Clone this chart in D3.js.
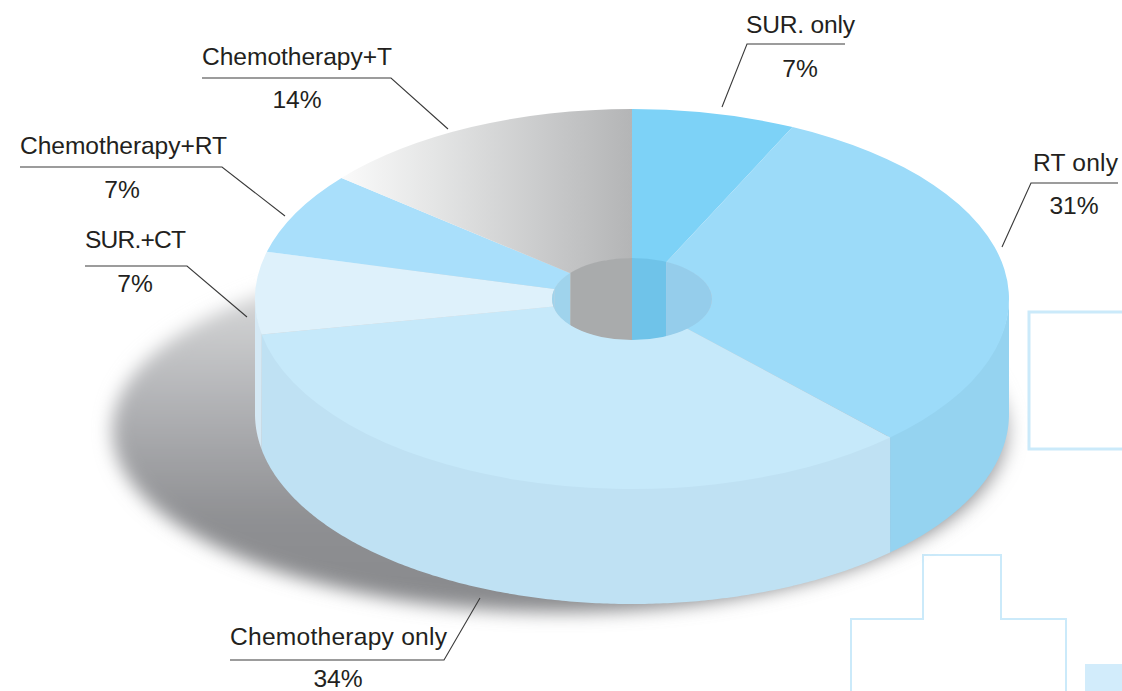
<!DOCTYPE html>
<html>
<head>
<meta charset="utf-8">
<style>
    html, body { margin: 0; padding: 0; background: #fff; }
    svg { display: block; }
    text { font-family: "Liberation Sans", Arial, sans-serif; font-size: 24.6px; fill: #231f20; }
</style>
</head>
<body>
    <script src="https://d3js.org/d3.v7.min.js"></script>
    <script type="text/javascript">
        // clockwise from 12 o'clock
        var categories = ["SUR. only", "RT only", "Chemotherapy only", "SUR.+CT", "Chemotherapy+RT", "Chemotherapy+T"];
        var percents = [7, 31, 34, 7, 7, 14];

        var topColors = ["#7dd2f7", "#9cdbf9", "#c6e9fa", "#def1fb", "#a9dffb", "url(#greyTop)"];
        var sideColors = ["#7dd2f7", "#95d3f0", "#bfe1f3", "#d5e9f5", "#a9dffb", "#b4b5b6"];
        var holeColors = ["#6fc3e9", "#95cdeb", "#bfe1f3", "#9fd3ec", "#9fd3ec", "#a9abac"];

        // where each label sits: name start x / baseline / width, percent centre / baseline, leader line
        var labelLayout = [
            { x: 746, y: 33, len: 109, px: 800, py: 77, leader: [[722, 107], [747, 44], [845, 44]] },
            { x: 1033, y: 171, len: 85, px: 1074, py: 214, leader: [[1002, 247], [1031, 183], [1118, 183]] },
            { x: 230, y: 645, len: 217, px: 338, py: 687, leader: [[480, 598], [444, 660], [230, 660]] },
            { x: 85, y: 248, len: 101, px: 135, py: 292, leader: [[85, 266], [187, 266], [247, 317]] },
            { x: 20, y: 154, len: 207, px: 122, py: 198, leader: [[20, 167], [222, 167], [285, 216]] },
            { x: 202, y: 65, len: 190, px: 297, py: 108, leader: [[202, 78], [391, 78], [448, 129]] }
        ];

        var w = 1122;
        var h = 691;
        var cx = 632;
        var cy = 299;
        var rx = 377;
        var ry = 190;
        var holeR = 80;
        var holeRy = 41;
        var depth = 115;

        var svg = d3.select("body").append("svg")
            .attr("width", w)
            .attr("height", h)
            .attr("viewBox", "0,0," + w + "," + h);

        var defs = svg.append("defs");

        // used inside the translated pie group, so x runs from the pie centre
        var greyTop = defs.append("linearGradient")
            .attr("id", "greyTop")
            .attr("gradientUnits", "userSpaceOnUse")
            .attr("x1", -290).attr("x2", 0).attr("y1", 0).attr("y2", 0);
        greyTop.selectAll("stop")
            .data([[0, "#fafafa"], [0.35, "#e2e3e3"], [0.7, "#c9cacb"], [1, "#b4b5b6"]])
            .enter().append("stop")
            .attr("offset", function (d) { return d[0]; })
            .attr("stop-color", function (d) { return d[1]; });

        var shadowFill = defs.append("linearGradient")
            .attr("id", "shadowFill")
            .attr("x1", 0).attr("x2", 0).attr("y1", 0).attr("y2", 1);
        shadowFill.selectAll("stop")
            .data([[0, "#e8e8e8"], [0.17, "#d0d1d2"], [0.42, "#b2b3b6"], [0.75, "#8e8f92"], [1, "#88898c"]])
            .enter().append("stop")
            .attr("offset", function (d) { return d[0]; })
            .attr("stop-color", function (d) { return d[1]; });

        defs.append("filter")
            .attr("id", "soft")
            .attr("x", "-10%").attr("y", "-10%").attr("width", "120%").attr("height", "120%")
            .append("feGaussianBlur")
            .attr("stdDeviation", 9);

        defs.append("clipPath")
            .attr("id", "holeClip")
            .append("ellipse")
            .attr("cx", cx).attr("cy", cy).attr("rx", holeR).attr("ry", holeRy);

        // background page furniture
        var deco = svg.append("g")
            .attr("fill", "none")
            .attr("stroke", "#cbeafa");
        deco.append("rect")
            .attr("x", 1029).attr("y", 312).attr("width", 120).attr("height", 137)
            .attr("stroke-width", 3);
        deco.append("path")
            .attr("d", "M851,691V619H923V555H1001V619H1066V691")
            .attr("stroke-width", 2);
        svg.append("rect")
            .attr("x", 1085).attr("y", 664).attr("width", 37).attr("height", 27)
            .attr("fill", "#d2ecfb");

        // drop shadow
        svg.append("ellipse")
            .attr("cx", 560).attr("cy", 430).attr("rx", 448).attr("ry", 182)
            .attr("fill", "url(#shadowFill)")
            .attr("filter", "url(#soft)");

        var pie = d3.pie()
            .sort(null)
            .value(function (d) { return d; });
        var slices = pie(percents);

        // side walls, only the front half of the rim shows
        var rim = d3.line();
        function rimPoints(a0, a1, dy) {
            var pts = d3.range(a0, a1, 0.01).concat([a1]);
            return pts.map(function (a) {
                return [cx + rx * Math.sin(a), cy + dy - ry * Math.cos(a)];
            });
        }

        svg.append("g").selectAll("path")
            .data(slices.filter(function (d) {
                return d.endAngle > Math.PI / 2 && d.startAngle < 3 * Math.PI / 2;
            }))
            .enter().append("path")
            .attr("fill", function (d) { return sideColors[d.index]; })
            .attr("d", function (d) {
                var a0 = Math.max(d.startAngle, Math.PI / 2);
                var a1 = Math.min(d.endAngle, 3 * Math.PI / 2);
                // top edge tucked under the face so no dark seam shows
                return rim(rimPoints(a0, a1, -2).concat(rimPoints(a0, a1, depth).reverse())) + "Z";
            });

        // top face
        var arc = d3.arc()
            .innerRadius(holeR)
            .outerRadius(rx);

        svg.append("g")
            .attr("transform", "translate(" + cx + "," + cy + ") scale(1," + (ry / rx) + ")")
            .selectAll("path")
            .data(slices)
            .enter().append("path")
            .attr("d", arc)
            .attr("fill", function (d) { return topColors[d.index]; });

        // hole, one vertical band per slice of the back half
        function bandSines(d) {
            var right = d.startAngle < Math.PI / 2;
            var a = right ? d.startAngle : Math.max(d.endAngle, 3 * Math.PI / 2);
            var b = right ? Math.min(d.endAngle, Math.PI / 2) : Math.max(d.startAngle, 3 * Math.PI / 2);
            return [Math.sin(a), Math.sin(b)];
        }

        svg.append("g")
            .attr("clip-path", "url(#holeClip)")
            .selectAll("rect")
            .data(slices.filter(function (d) {
                return d.startAngle < Math.PI / 2 || d.endAngle > 3 * Math.PI / 2;
            }))
            .enter().append("rect")
            .attr("x", function (d) { return cx + holeR * d3.min(bandSines(d)); })
            .attr("width", function (d) {
                var s = bandSines(d);
                return holeR * Math.abs(s[0] - s[1]);
            })
            .attr("y", cy - holeRy)
            .attr("height", holeRy * 2)
            .attr("fill", function (d) { return holeColors[d.index]; });

        // labels
        var leader = d3.line();
        svg.append("g").selectAll("path")
            .data(labelLayout)
            .enter().append("path")
            .attr("d", function (d) { return leader(d.leader); })
            .attr("fill", "none")
            .attr("stroke", "#3a3a3a")
            .attr("stroke-width", 1.1);

        svg.append("g").selectAll("text")
            .data(categories)
            .enter().append("text")
            .attr("x", function (d, i) { return labelLayout[i].x; })
            .attr("y", function (d, i) { return labelLayout[i].y; })
            .attr("textLength", function (d, i) { return labelLayout[i].len; })
            .text(function (d) { return d; });

        svg.append("g").selectAll("text")
            .data(percents)
            .enter().append("text")
            .attr("x", function (d, i) { return labelLayout[i].px; })
            .attr("y", function (d, i) { return labelLayout[i].py; })
            .attr("text-anchor", "middle")
            .text(function (d) { return d + "%"; });
    </script>
</body>
</html>
